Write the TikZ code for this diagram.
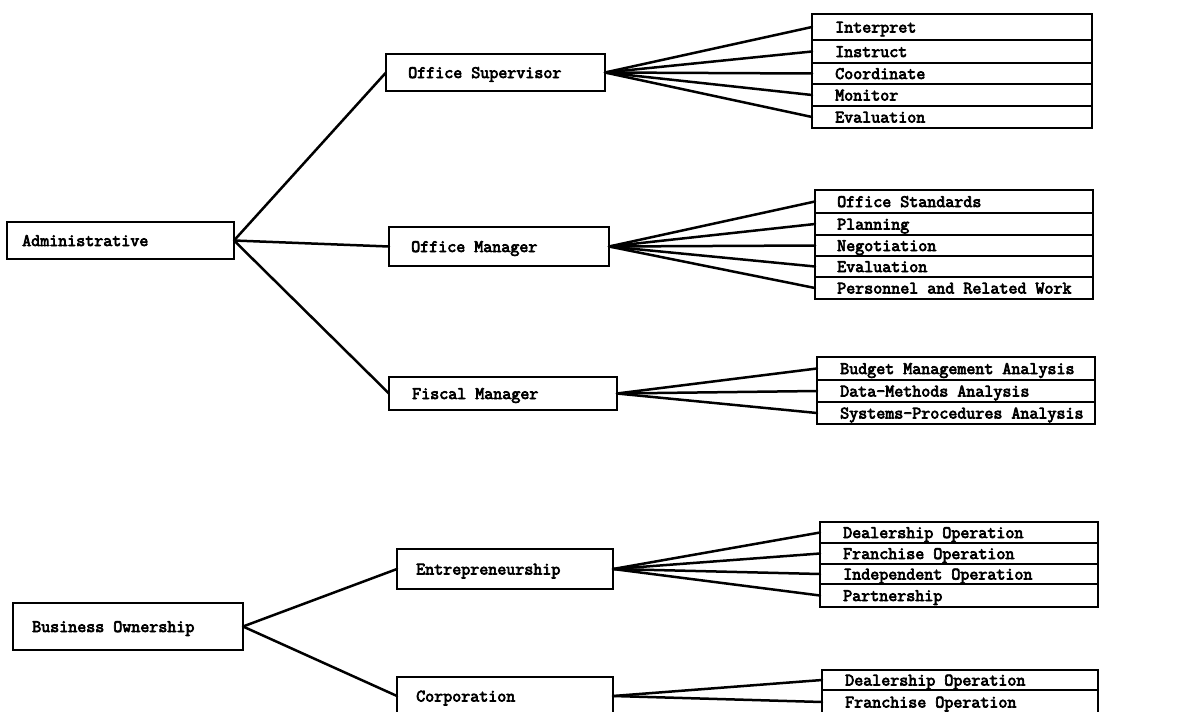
\documentclass[tikz,border=0pt]{standalone}
\usepackage{fontspec}
\newfontfamily\tw{Latin Modern Mono}[FakeBold=4]
% rectangle frame: name, left, top, right, bottom (pixel-like units)
\newcommand\mkbox[5]{\node[frame, minimum width={(#4-#2)*1pt}, minimum height={(#5-#3)*1pt}] (#1) at (#2,#3) {};}
% text inside a frame: frame name, left indent, text
\newcommand\mklabel[3]{\node[txt] (#1-t) at ([xshift=#2pt, yshift=-5.5pt]#1.west) {#3};}
\begin{document}
\begin{tikzpicture}[x=1pt, y=-1pt,
  frame/.style={draw, line width=2.1pt, anchor=north west, inner sep=0pt, outer sep=0pt},
  txt/.style={anchor=base west, inner sep=0pt, font=\tw\fontsize{17.5}{20}\selectfont},
  link/.style={line width=2.5pt, line cap=round}]
\useasboundingbox (0,0) rectangle (1197,712);
\fill[white] (0,0) rectangle (1197,712);
\clip (0,0) rectangle (1197,712);

% ---- first tree ----
\mkbox{adm}{7}{222}{234}{259}   \mklabel{adm}{15}{Administrative}
\mkbox{os}{386}{54}{605}{91}    \mklabel{os}{22}{Office Supervisor}
\mkbox{om}{389}{227}{609}{266}  \mklabel{om}{22}{Office Manager}
\mkbox{fm}{389}{377}{617}{410}  \mklabel{fm}{23}{Fiscal Manager}

\mkbox{os1}{812}{14}{1092}{40}   \mklabel{os1}{23}{Interpret}
\mkbox{os2}{812}{40}{1092}{63}   \mklabel{os2}{23}{Instruct}
\mkbox{os3}{812}{63}{1092}{84}   \mklabel{os3}{23}{Coordinate}
\mkbox{os4}{812}{84}{1092}{106}  \mklabel{os4}{23}{Monitor}
\mkbox{os5}{812}{106}{1092}{128} \mklabel{os5}{23}{Evaluation}

\mkbox{om1}{815}{190}{1093}{213} \mklabel{om1}{22}{Office Standards}
\mkbox{om2}{815}{213}{1093}{235} \mklabel{om2}{22}{Planning}
\mkbox{om3}{815}{235}{1093}{256} \mklabel{om3}{22}{Negotiation}
\mkbox{om4}{815}{256}{1093}{277} \mklabel{om4}{22}{Evaluation}
\mkbox{om5}{815}{277}{1093}{299} \mklabel{om5}{22}{Personnel and Related Work}

\mkbox{fm1}{817}{357}{1095}{380} \mklabel{fm1}{23}{Budget Management Analysis}
\mkbox{fm2}{817}{380}{1095}{402} \mklabel{fm2}{23}{Data-Methods Analysis}
\mkbox{fm3}{817}{402}{1095}{424} \mklabel{fm3}{23}{Systems-Procedures Analysis}

\foreach \c in {os,om,fm} \draw[link] (adm.east) -- (\c.west);
\foreach \i in {1,...,5} \draw[link] (os.east) -- (os\i.west);
\foreach \i in {1,...,5} \draw[link] (om.east) -- (om\i.west);
\foreach \i in {1,2,3} \draw[link] (fm.east) -- (fm\i.west);

% ---- second tree ----
\mkbox{bo}{13}{603}{243}{650}   \mklabel{bo}{19}{Business Ownership}
\mkbox{en}{397}{549}{613}{589}  \mklabel{en}{19}{Entrepreneurship}
\mkbox{co}{397}{677}{613}{715}  \mklabel{co}{19}{Corporation}

\mkbox{en1}{820}{522}{1098}{543} \mklabel{en1}{23}{Dealership Operation}
\mkbox{en2}{820}{543}{1098}{564} \mklabel{en2}{23}{Franchise Operation}
\mkbox{en3}{820}{564}{1098}{584} \mklabel{en3}{23}{Independent Operation}
\mkbox{en4}{820}{584}{1098}{607} \mklabel{en4}{23}{Partnership}

\mkbox{co1}{822}{670}{1098}{690} \mklabel{co1}{23}{Dealership Operation}
\mkbox{co2}{822}{690}{1098}{714} \mklabel{co2}{23}{Franchise Operation}

\foreach \c in {en,co} \draw[link] (bo.east) -- (\c.west);
\foreach \i in {1,...,4} \draw[link] (en.east) -- (en\i.west);
\foreach \i in {1,2} \draw[link] (co.east) -- (co\i.west);
\end{tikzpicture}
\end{document}
